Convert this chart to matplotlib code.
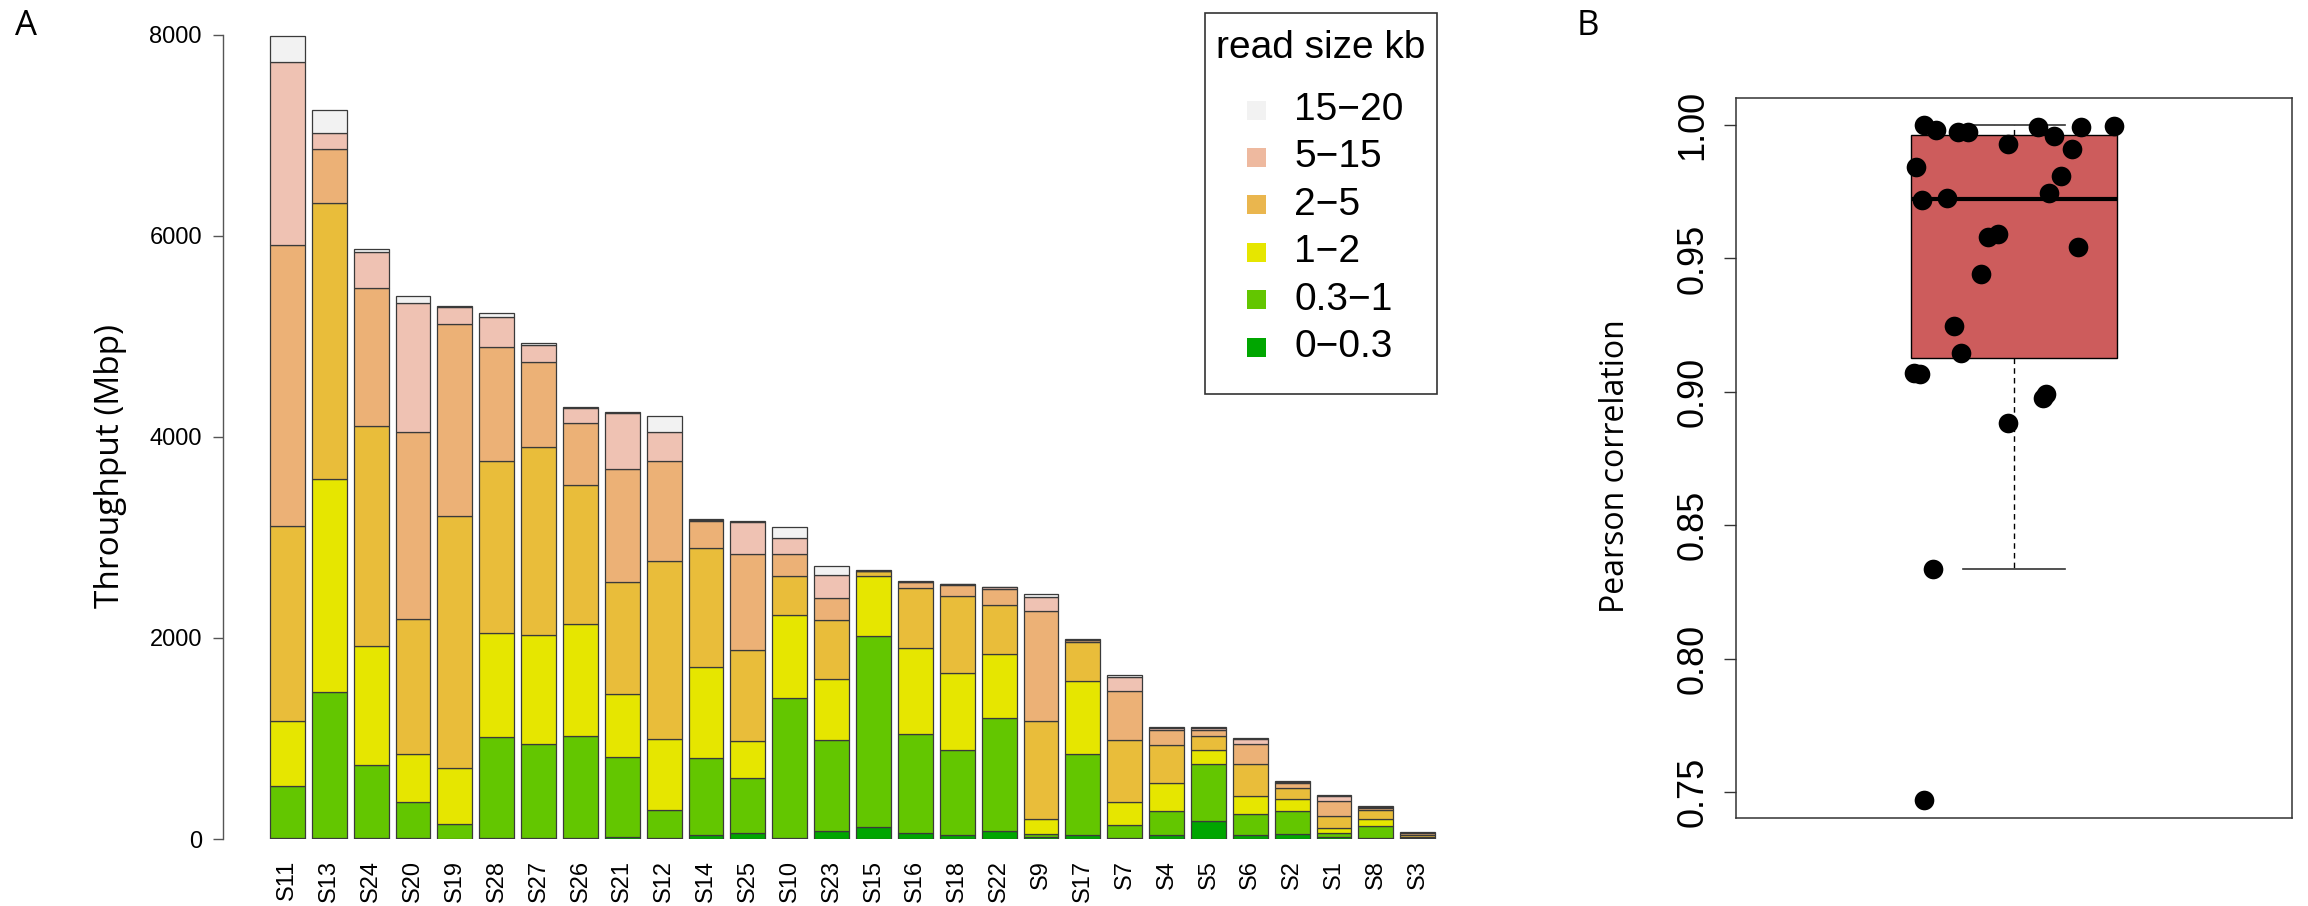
import numpy as np
import matplotlib
matplotlib.use("Agg")
import matplotlib.pyplot as plt
from matplotlib.patches import Rectangle

# ---------------- data ----------------
samples = ["S11", "S13", "S24", "S20", "S19", "S28", "S27", "S26", "S21", "S12",
           "S14", "S25", "S10", "S23", "S15", "S16", "S18", "S22", "S9", "S17",
           "S7", "S4", "S5", "S6", "S2", "S1", "S8", "S3"]

# throughput (Mbp) per read-length bin, one value per sample
bin_0_03 = [5, 5, 5, 12, 3, 10, 8, 8, 15, 5, 40, 60, 10, 80, 120, 60, 36, 80, 20, 36,
            10, 36, 182, 36, 50, 20, 5, 3]
bin_03_1 = [522, 1454, 728, 356, 146, 1002, 937, 1020, 798, 284, 763, 550, 1393, 905,
            1903, 988, 853, 1121, 30, 810, 129, 243, 568, 209, 232, 36, 124, 10]
bin_1_2 = [651, 2120, 1184, 478, 558, 1038, 1082, 1108, 633, 706, 912, 365, 829, 610,
           591, 849, 760, 643, 146, 723, 229, 278, 139, 180, 113, 50, 73, 10]
bin_2_5 = [1940, 2746, 2189, 1340, 2510, 1715, 1877, 1383, 1115, 1771, 1177, 902, 385,
           581, 49, 601, 766, 481, 982, 388, 617, 375, 133, 325, 109, 120, 87, 17]
bin_5_10 = [2790, 538, 1374, 1864, 1911, 1128, 846, 617, 1124, 995, 272, 962, 222, 225,
            5, 59, 113, 166, 1094, 23, 484, 153, 63, 192, 50, 152, 16, 16]
bin_10_15 = [1824, 159, 358, 1280, 169, 305, 166, 150, 550, 289, 14, 312, 153, 223,
             3, 4, 6, 13, 139, 4, 146, 23, 16, 56, 13, 50, 10, 7]
bin_15_20 = [259, 229, 30, 77, 6, 33, 16, 16, 15, 163, 10, 10, 109, 89, 2, 3, 7, 7,
             30, 3, 14, 10, 14, 10, 10, 10, 10, 3]

layers = [bin_0_03, bin_03_1, bin_1_2, bin_2_5, bin_5_10, bin_10_15, bin_15_20]
bar_colors = ["#00A600", "#63C600", "#E6E600", "#E9BD3A", "#ECB176", "#EFC2B3", "#F2F2F2"]

legend_title = "read size kb"
legend_labels = ["15\u221220", "5\u221215", "2\u22125", "1\u22122", "0.3\u22121", "0\u22120.3"]
legend_colors = ["#F2F2F2", "#EEB99F", "#EAB64E", "#E6E600", "#63C600", "#00A600"]

yticks_a = [0, 2000, 4000, 6000, 8000]

# per-sample Pearson correlation and horizontal jitter of each dot
pearson_r = [1.000, 0.998, 0.9975, 0.9975, 0.9994, 0.9957, 0.9994, 0.9997, 0.993, 0.991,
             0.9843, 0.981, 0.9746, 0.972, 0.9727, 0.958, 0.959, 0.9544, 0.944, 0.9245,
             0.9146, 0.907, 0.9068, 0.8977, 0.899, 0.8885, 0.8336, 0.747]
jitter_x = [-0.175, -0.152, -0.109, -0.089, 0.047, 0.078, 0.130, 0.194, -0.012, 0.113,
            -0.190, 0.091, 0.068, -0.179, -0.130, -0.051, -0.031, 0.124, -0.064, -0.117,
            -0.103, -0.194, -0.183, 0.056, 0.062, -0.012, -0.157, -0.175]
yticks_b = [0.75, 0.80, 0.85, 0.90, 0.95, 1.00]

# ---------------- figure ----------------
W, H = 2308, 906
fig = plt.figure(figsize=(W / 100, H / 100), dpi=100)
TICK_FONT = ["Liberation Sans", "DejaVu Sans"]
LABEL_FONT = ["Open Sans", "DejaVu Sans"]


def px_axes(left, top, right, bottom):
    return fig.add_axes([left / W, 1 - bottom / H, (right - left) / W, (bottom - top) / H])


def fx(px):
    return px / W


def fy(py):
    return 1 - py / H


# ---------- panel A: stacked throughput bars ----------
axA = px_axes(223, 20, 1460, 839)
x = np.arange(len(samples))
base = np.zeros(len(samples))
for vals, col in zip(layers, bar_colors):
    vals = np.asarray(vals, dtype=float)
    axA.bar(x, vals, bottom=base, width=0.833, color=col,
            edgecolor="#3a3a3a", linewidth=0.9)
    base += vals

axA.set_xlim(-1.538, 28.01)
axA.set_ylim(0, 8149)
for s in ["top", "right", "bottom"]:
    axA.spines[s].set_visible(False)
axA.spines["left"].set_bounds(0, 8000)
axA.spines["left"].set_color("#555555")
axA.spines["left"].set_linewidth(1.0)
axA.set_yticks(yticks_a)
axA.set_yticklabels([str(v) for v in yticks_a], fontfamily=TICK_FONT)
axA.tick_params(axis="y", length=7.2, width=1.0, color="#555555", pad=8, labelsize=17)
axA.set_xticks(x)
axA.set_xticklabels(samples, rotation=90, fontfamily=TICK_FONT)
axA.tick_params(axis="x", length=0, pad=15, labelsize=17)

fig.text(fx(111), fy(466), "Throughput (Mbp)", rotation=90, ha="center", va="center",
         fontsize=24, fontfamily=LABEL_FONT)
fig.text(fx(26), fy(26), "A", ha="center", va="center", fontsize=25, fontfamily=LABEL_FONT)

# legend box
fig.patches.append(Rectangle((fx(1205), fy(394)), fx(1437) - fx(1205), fy(13) - fy(394),
                             transform=fig.transFigure, facecolor="white",
                             edgecolor="#333333", linewidth=1.2))
fig.text(fx(1321), fy(48), legend_title, ha="center", va="center", fontsize=28,
         fontfamily=TICK_FONT)
for i, (lab, col) in enumerate(zip(legend_labels, legend_colors)):
    cy = 110 + i * 47.4
    fig.patches.append(Rectangle((fx(1247), fy(cy + 9.5)), fx(19), 19 / H,
                                 transform=fig.transFigure, facecolor=col,
                                 edgecolor="none"))
    fig.text(fx(1294), fy(cy), lab, ha="left", va="center", fontsize=28,
             fontfamily=TICK_FONT)

# ---------- panel B: correlation box plot ----------
axB = px_axes(1736, 98, 2292, 818)
axB.boxplot(pearson_r, positions=[1], widths=0.4, patch_artist=True, showfliers=False,
            whis=1.5,
            boxprops=dict(facecolor="#CD5C5C", edgecolor="black", linewidth=1.0),
            medianprops=dict(color="black", linewidth=3.0),
            whiskerprops=dict(color="black", linewidth=1.0, linestyle=(0, (4, 3))),
            capprops=dict(color="#333333", linewidth=1.2))
axB.scatter(1 + np.asarray(jitter_x), pearson_r, s=200, color="black", zorder=3,
            linewidths=0)
axB.set_xlim(0.46, 1.54)
axB.set_ylim(0.7403, 1.0101)
axB.set_xticks([])
axB.set_yticks(yticks_b)
axB.set_yticklabels(["%.2f" % v for v in yticks_b], rotation=90, va="center",
                    fontfamily=TICK_FONT)
axB.tick_params(axis="y", length=8.6, width=1.0, color="#333333", pad=10, labelsize=26)
for s in axB.spines.values():
    s.set_color("#333333")
    s.set_linewidth(1.1)

fig.text(fx(1615), fy(466), "Pearson correlation", rotation=90, ha="center", va="center",
         fontsize=23, fontfamily=LABEL_FONT)
fig.text(fx(1588), fy(26), "B", ha="center", va="center", fontsize=25, fontfamily=LABEL_FONT)

fig.savefig("out.png", dpi=100, facecolor="white")
